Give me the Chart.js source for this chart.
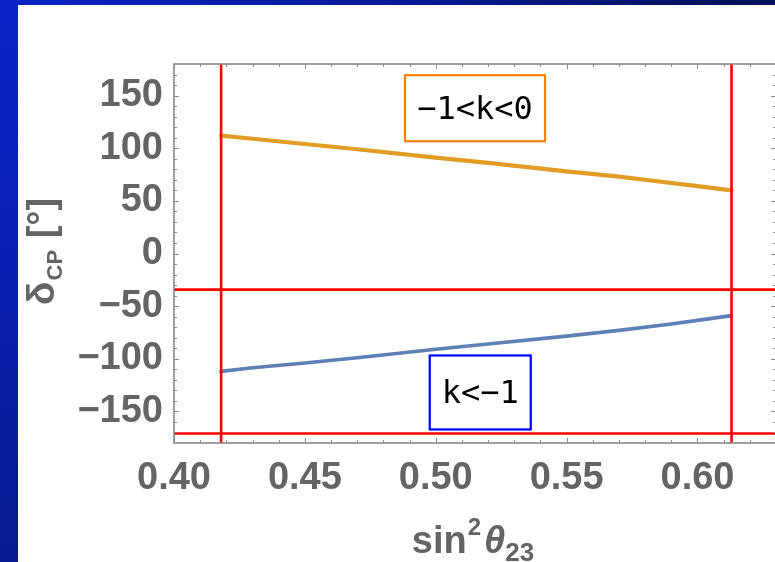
<!DOCTYPE html>
<html>
<head>
<meta charset="utf-8">
<script src="https://cdn.jsdelivr.net/npm/chart.js@4/dist/chart.umd.min.js"></script>
<style>
  html, body { margin: 0; padding: 0; width: 775px; height: 562px; overflow: hidden; }
  body { position: relative; background: linear-gradient(to right, #0b24c8 0%, #07198f 55%, #031057 100%); }
  #leftBar { position: absolute; left: 0; top: 0; width: 18px; height: 562px;
             background: linear-gradient(to bottom, #0b24cb 0%, #0820b0 50%, #061a8f 100%); }
  #panel { position: absolute; left: 18px; top: 5px; right: 0; bottom: 0; background: #ffffff; }
  #wrap { position: absolute; left: 0; top: 0; width: 800px; height: 562px; }
</style>
</head>
<body>
<div id="leftBar"></div>
<div id="panel"></div>
<div id="wrap"><canvas id="c" width="800" height="562"></canvas></div>
<script>
// Axis ticks
const xTicks = [0.40, 0.45, 0.50, 0.55, 0.60];
const yTicks = [-150, -100, -50, 0, 50, 100, 150];

// sin^2(theta23) sample positions and the two delta_CP branches (degrees)
const sin2Theta23 = [0.418, 0.43, 0.45, 0.47, 0.50, 0.52, 0.55, 0.57, 0.59, 0.60, 0.613];
const deltaUpper  = [112, 109, 104, 99, 91, 86, 78, 73, 67, 64, 60];              // -1<k<0
const deltaLower  = [-112, -108.5, -104, -99, -91, -86, -78.5, -73, -67, -63.5, -59]; // k<-1

// Allowed-range boundaries
const boundX = [0.418, 0.613];
const boundY = [-34.3, -171];

// Region labels
const regionLabels = ['\u22121<k<0', 'k<\u22121'];
const regionX = [0.515, 0.517];
const regionY = [138, -132];
const regionColors = ['#ff8000', '#0000ff'];
const regionBox = [[140, 66], [101, 74]];

const GRAY = '#646464';
const FONT = '"Liberation Sans", Arial, sans-serif';

function pts(xs, ys) { return xs.map((x, i) => ({ x: x, y: ys[i] })); }

const boundsPlugin = {
  id: 'bounds',
  afterDatasetsDraw(chart) {
    const { ctx, chartArea: a, scales: { x, y } } = chart;
    ctx.save();
    ctx.beginPath();
    ctx.rect(a.left, a.top, a.right - a.left, a.bottom - a.top);
    ctx.clip();
    ctx.strokeStyle = '#ff0000';
    ctx.lineWidth = 2.6;
    boundX.forEach(v => {
      const px = x.getPixelForValue(v);
      ctx.beginPath(); ctx.moveTo(px, a.top); ctx.lineTo(px, a.bottom); ctx.stroke();
    });
    boundY.forEach(v => {
      const py = y.getPixelForValue(v);
      ctx.beginPath(); ctx.moveTo(a.left, py); ctx.lineTo(a.right, py); ctx.stroke();
    });
    ctx.restore();
  }
};

const framePlugin = {
  id: 'frame',
  afterDraw(chart) {
    const { ctx, chartArea: a, scales: { x, y } } = chart;
    ctx.save();
    // inward ticks on all four sides
    ctx.strokeStyle = '#8a8a8a';
    ctx.lineWidth = 1;
    for (let i = 0; i <= 23; i++) {
      const v = 0.40 + i * 0.01;
      const major = i % 5 === 0;
      const px = Math.round(x.getPixelForValue(v)) + 0.5;
      const len = major ? 5 : 3;
      ctx.beginPath();
      ctx.moveTo(px, a.bottom); ctx.lineTo(px, a.bottom - len);
      ctx.moveTo(px, a.top); ctx.lineTo(px, a.top + len);
      ctx.stroke();
    }
    for (let v = -170; v <= 170; v += 10) {
      const major = v % 50 === 0;
      const py = Math.round(y.getPixelForValue(v)) + 0.5;
      const len = major ? 5 : 3;
      ctx.beginPath();
      ctx.moveTo(a.left, py); ctx.lineTo(a.left + len, py);
      ctx.moveTo(a.right, py); ctx.lineTo(a.right - len, py);
      ctx.stroke();
    }
    // frame
    ctx.strokeStyle = '#888888';
    ctx.lineWidth = 1.6;
    ctx.strokeRect(a.left, a.top, a.right - a.left, a.bottom - a.top);

    // region label boxes
    regionLabels.forEach((t, i) => {
      const cx = x.getPixelForValue(regionX[i]);
      const cy = y.getPixelForValue(regionY[i]);
      const [w, h] = regionBox[i];
      ctx.fillStyle = '#ffffff';
      ctx.fillRect(cx - w / 2, cy - h / 2, w, h);
      ctx.strokeStyle = regionColors[i];
      ctx.lineWidth = 2.2;
      ctx.strokeRect(cx - w / 2, cy - h / 2, w, h);
      ctx.fillStyle = '#000000';
      ctx.font = '32px "DejaVu Sans Mono", monospace';
      ctx.textAlign = 'center';
      ctx.textBaseline = 'middle';
      ctx.fillText(t, cx, cy + 2);
    });

    // axis titles with sub/superscripts
    function rich(parts, cx, baseY) {
      let total = 0;
      parts.forEach(p => { ctx.font = p.f; p.w = ctx.measureText(p.t).width; total += p.w + (p.gap || 0); });
      let cur = cx - total / 2;
      ctx.textAlign = 'left';
      ctx.textBaseline = 'alphabetic';
      ctx.fillStyle = GRAY;
      parts.forEach(p => {
        cur += (p.gap || 0);
        ctx.font = p.f;
        ctx.fillText(p.t, cur, baseY + (p.dy || 0));
        cur += p.w;
      });
    }
    rich([
      { t: 'sin', f: 'bold 38px ' + FONT },
      { t: '2', f: 'bold 24px ' + FONT, dy: -18, gap: 1 },
      { t: '\u03b8', f: 'italic bold 38px ' + FONT, gap: 3 },
      { t: '23', f: 'bold 26px ' + FONT, dy: 8 }
    ], 473, 553);

    ctx.save();
    ctx.translate(54, 251.5);
    ctx.rotate(-Math.PI / 2);
    rich([
      { t: '\u03b4', f: 'bold 39px ' + FONT },
      { t: 'CP', f: 'bold 22px ' + FONT, dy: 8, gap: 1 },
      { t: ' [\u00b0]', f: 'bold 38px ' + FONT, gap: 1 }
    ], 0, 0);
    ctx.restore();
    ctx.restore();
  }
};

const tickFont = { family: FONT, size: 38, weight: 'bold' };

new Chart(document.getElementById('c'), {
  type: 'line',
  data: {
    datasets: [
      {
        label: '-1<k<0',
        data: pts(sin2Theta23, deltaUpper),
        borderColor: '#e19c24',
        borderWidth: 4.2,
        borderCapStyle: 'round',
        borderJoinStyle: 'round',
        pointRadius: 0,
        tension: 0
      },
      {
        label: 'k<-1',
        data: pts(sin2Theta23, deltaLower),
        borderColor: '#5e81b5',
        borderWidth: 3.6,
        borderCapStyle: 'round',
        borderJoinStyle: 'round',
        pointRadius: 0,
        tension: 0
      }
    ]
  },
  options: {
    responsive: false,
    animation: false,
    events: [],
    layout: { padding: { top: 64, right: 24, left: 0, bottom: 0 } },
    plugins: { legend: { display: false }, tooltip: { enabled: false } },
    scales: {
      x: {
        type: 'linear',
        min: 0.40,
        max: 0.630,
        afterBuildTicks: s => { s.ticks = xTicks.map(v => ({ value: v })); },
        afterFit: s => { s.height = 119; },
        grid: { display: false, drawTicks: false },
        border: { display: false },
        ticks: {
          padding: 13,
          font: tickFont,
          color: GRAY,
          maxRotation: 0,
          autoSkip: false,
          callback: v => v.toFixed(2)
        }
      },
      y: {
        type: 'linear',
        min: -180,
        max: 180,
        afterBuildTicks: s => { s.ticks = yTicks.map(v => ({ value: v })); },
        afterFit: s => { s.width = 174; },
        grid: { display: false, drawTicks: false },
        border: { display: false },
        ticks: {
          padding: 11,
          font: tickFont,
          color: GRAY,
          autoSkip: false,
          callback: v => (v < 0 ? '\u2212' + Math.abs(v) : String(v))
        }
      }
    }
  },
  plugins: [boundsPlugin, framePlugin]
});
</script>
</body>
</html>
